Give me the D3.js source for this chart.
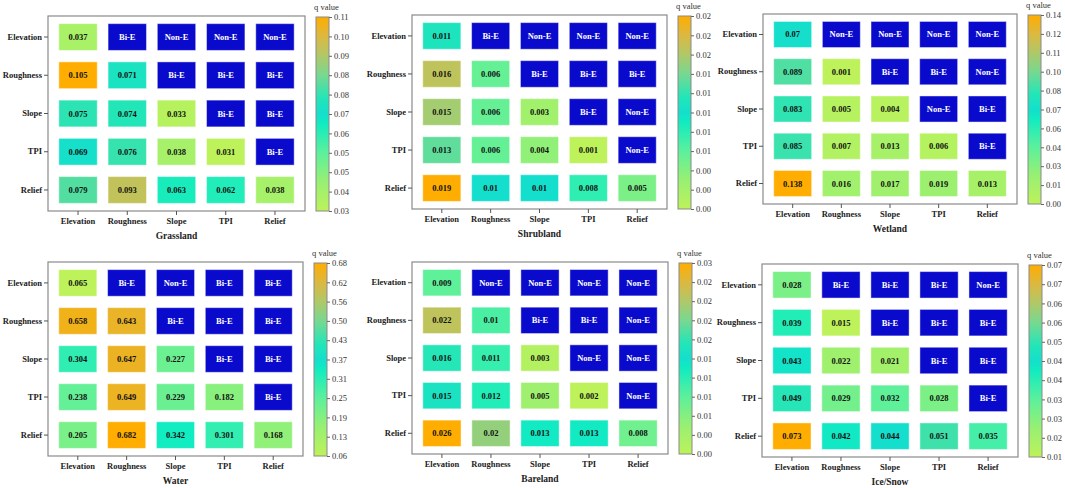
<!DOCTYPE html>
<html>
<head>
<meta charset="utf-8">
<script src="https://cdn.jsdelivr.net/npm/d3@7"></script>
<style>
  body { margin: 0; background: #fff; }
  svg text { font-family: "Liberation Serif", "Times New Roman", serif; }
</style>
</head>
<body>
<script>
// factors on both axes
const factors = ["Elevation", "Roughness", "Slope", "TPI", "Relief"];

// q values, lower triangle numbers, upper triangle interaction type
const grassland = [
  [0.037, "Bi-E", "Non-E", "Non-E", "Non-E"],
  [0.105, 0.071, "Bi-E", "Bi-E", "Bi-E"],
  [0.075, 0.074, 0.033, "Bi-E", "Bi-E"],
  [0.069, 0.076, 0.038, 0.031, "Bi-E"],
  [0.079, 0.093, 0.063, 0.062, 0.038]
];
const shrubland = [
  [0.011, "Bi-E", "Non-E", "Non-E", "Non-E"],
  [0.016, 0.006, "Bi-E", "Bi-E", "Bi-E"],
  [0.015, 0.006, 0.003, "Bi-E", "Non-E"],
  [0.013, 0.006, 0.004, 0.001, "Non-E"],
  [0.019, 0.01, 0.01, 0.008, 0.005]
];
const wetland = [
  [0.07, "Non-E", "Non-E", "Non-E", "Non-E"],
  [0.089, 0.001, "Bi-E", "Bi-E", "Non-E"],
  [0.083, 0.005, 0.004, "Non-E", "Bi-E"],
  [0.085, 0.007, 0.013, 0.006, "Bi-E"],
  [0.138, 0.016, 0.017, 0.019, 0.013]
];
const water = [
  [0.065, "Bi-E", "Non-E", "Bi-E", "Bi-E"],
  [0.658, 0.643, "Bi-E", "Bi-E", "Bi-E"],
  [0.304, 0.647, 0.227, "Bi-E", "Bi-E"],
  [0.238, 0.649, 0.229, 0.182, "Bi-E"],
  [0.205, 0.682, 0.342, 0.301, 0.168]
];
const bareland = [
  [0.009, "Non-E", "Non-E", "Non-E", "Non-E"],
  [0.022, 0.01, "Bi-E", "Bi-E", "Non-E"],
  [0.016, 0.011, 0.003, "Non-E", "Non-E"],
  [0.015, 0.012, 0.005, 0.002, "Non-E"],
  [0.026, 0.02, 0.013, 0.013, 0.008]
];
const iceSnow = [
  [0.028, "Bi-E", "Bi-E", "Bi-E", "Non-E"],
  [0.039, 0.015, "Bi-E", "Bi-E", "Bi-E"],
  [0.043, 0.022, 0.021, "Bi-E", "Bi-E"],
  [0.049, 0.029, 0.032, 0.028, "Bi-E"],
  [0.073, 0.042, 0.044, 0.051, 0.035]
];

// colorbar tick labels, bottom to top
const grasslandTicks = ["0.03","0.04","0.05","0.05","0.06","0.07","0.08","0.08","0.09","0.10","0.11"];
const shrublandTicks = ["0.00","0.00","0.00","0.01","0.01","0.01","0.01","0.01","0.02","0.02","0.02"];
const wetlandTicks   = ["0.00","0.01","0.03","0.04","0.06","0.07","0.08","0.10","0.11","0.12","0.14"];
const waterTicks     = ["0.06","0.13","0.19","0.25","0.31","0.37","0.43","0.50","0.56","0.62","0.68"];
const barelandTicks  = ["0.00","0.00","0.01","0.01","0.01","0.01","0.02","0.02","0.02","0.02","0.03"];
const iceSnowTicks   = ["0.01","0.02","0.03","0.03","0.04","0.04","0.05","0.06","0.06","0.07","0.07"];

const titles = ["Grassland", "Shrubland", "Wetland", "Water", "Bareland", "Ice/Snow"];
const matrices = [grassland, shrubland, wetland, water, bareland, iceSnow];
const tickSets = [grasslandTicks, shrublandTicks, wetlandTicks, waterTicks, barelandTicks, iceSnowTicks];

// frame position of each panel [left, top, width, height]
const frames = [
  [48, 16, 257, 195], [412, 15, 255, 194], [763, 14, 254, 190],
  [48, 262, 255, 194], [412, 262, 256, 192], [762, 264, 256, 193]
];

// colormap stops (fraction -> colour)
const cmapStops = [0, 0.15, 0.3, 0.45, 0.5, 0.58, 0.7, 0.8, 0.9, 1];
const cmapColors = ["#bdf25a", "#98f072", "#5cf09c", "#10ecc0", "#14dfcc", "#22e6b8", "#78d890", "#b0c868", "#dcb840", "#ffad00"];

const blue = "#0a0acd";
const serif = '"Liberation Serif", "Times New Roman", serif';

const svg = d3.select("body").append("svg")
    .attr("width", 1065).attr("height", 488);

const defs = svg.append("defs");
const grad = defs.append("linearGradient")
    .attr("id", "cmap")
    .attr("x1", 0).attr("y1", 1).attr("x2", 0).attr("y2", 0);
grad.selectAll("stop")
    .data(cmapStops)
    .enter().append("stop")
        .attr("offset", d => d)
        .attr("stop-color", (d, i) => cmapColors[i]);

matrices.forEach(function(mat, p) {
  const [fx, fy, fw, fh] = frames[p];
  const g = svg.append("g").attr("transform", `translate(${fx},${fy})`);

  // flatten cells
  const cells = [];
  mat.forEach((row, r) => row.forEach((v, c) => cells.push({r: r, c: c, v: v})));
  const nums = cells.filter(d => typeof d.v === "number").map(d => d.v);
  const qMin = d3.min(nums), qMax = d3.max(nums);

  const color = d3.scaleLinear()
      .domain(cmapStops.map(s => qMin + s * (qMax - qMin)))
      .range(cmapColors)
      .interpolate(d3.interpolateRgb);

  const x = d3.scaleBand().domain(factors).range([0, fw]).padding(0.22);
  const y = d3.scaleBand().domain(factors).range([0, fh]).paddingInner(0.3).paddingOuter(0.2);

  // frame
  g.append("rect")
      .attr("width", fw).attr("height", fh)
      .attr("fill", "none")
      .attr("stroke", "#8a8a8a")
      .attr("stroke-width", 1.2);

  // cells
  g.selectAll("rect.cell")
    .data(cells)
    .enter().append("rect")
      .attr("class", "cell")
      .attr("x", d => x(factors[d.c]))
      .attr("y", d => y(factors[d.r]))
      .attr("width", x.bandwidth())
      .attr("height", y.bandwidth())
      .attr("fill", d => typeof d.v === "number" ? color(d.v) : blue)
      .attr("stroke", "#ffffff")
      .attr("stroke-opacity", 0.45)
      .attr("stroke-width", 1);

  g.selectAll("text.cell")
    .data(cells)
    .enter().append("text")
      .attr("class", "cell")
      .attr("x", d => x(factors[d.c]) + x.bandwidth() / 2)
      .attr("y", d => y(factors[d.r]) + y.bandwidth() / 2)
      .attr("text-anchor", "middle")
      .attr("dominant-baseline", "central")
      .attr("font-size", 8.5)
      .attr("font-weight", "bold")
      .attr("fill", d => typeof d.v === "number" ? "#111" : "#ffffff")
      .text(d => d.v);

  // axes
  const yAxis = g.append("g")
      .call(d3.axisLeft(y).tickSize(4).tickPadding(2));
  const xAxis = g.append("g")
      .attr("transform", `translate(0,${fh})`)
      .call(d3.axisBottom(x).tickSize(4).tickPadding(3));
  [xAxis, yAxis].forEach(function(a) {
    a.attr("font-family", serif);
    a.select(".domain").remove();
    a.selectAll("line").attr("stroke", "#555");
    a.selectAll("text")
        .attr("font-size", 8.5)
        .attr("font-weight", "bold")
        .attr("fill", "#222");
  });

  // panel title
  g.append("text")
      .attr("x", fw / 2)
      .attr("y", fh + 28)
      .attr("text-anchor", "middle")
      .attr("font-size", 9.5)
      .attr("font-weight", "bold")
      .attr("fill", "#222")
      .text(titles[p]);

  // colorbar
  const cbX = fw + 11, cbW = 13;
  const cb = g.append("g").attr("transform", `translate(${cbX},0)`);
  cb.append("rect")
      .attr("y", 1)
      .attr("width", cbW).attr("height", fh - 1)
      .attr("fill", "url(#cmap)")
      .attr("stroke", "#8a8a8a")
      .attr("stroke-width", 1);

  const labels = tickSets[p];
  const cbScale = d3.scaleLinear().domain([0, labels.length - 1]).range([fh, 1]);
  const cbAxis = cb.append("g")
      .attr("transform", `translate(${cbW},0)`)
      .call(d3.axisRight(cbScale)
          .tickValues(d3.range(labels.length))
          .tickFormat(i => labels[i])
          .tickSize(3).tickPadding(2));
  cbAxis.attr("font-family", serif);
  cbAxis.select(".domain").remove();
  cbAxis.selectAll("line").attr("stroke", "#666");
  cbAxis.selectAll("text")
      .attr("font-size", 8.5)
      .attr("fill", "#333");

  cb.append("text")
      .attr("x", cbW / 2 + 4)
      .attr("y", -6)
      .attr("text-anchor", "middle")
      .attr("font-size", 8.5)
      .attr("fill", "#333")
      .text("q value");
});
</script>
</body>
</html>
